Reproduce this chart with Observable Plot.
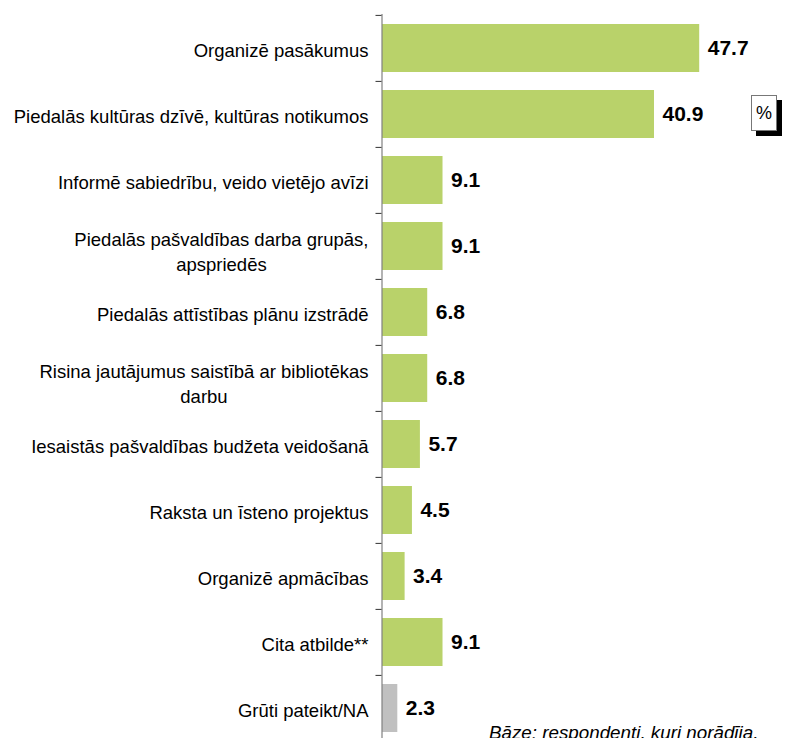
<!DOCTYPE html>
<html>
<head>
<meta charset="utf-8">
<script src="https://cdn.jsdelivr.net/npm/d3@7"></script>
<script src="https://cdn.jsdelivr.net/npm/@observablehq/plot@0.6"></script>
<style>
  html, body { margin: 0; padding: 0; background: #fff; }
  #chart { width: 788px; height: 738px; overflow: hidden; }
</style>
</head>
<body>
<div id="chart"></div>
<script>
const categories = [
  "Organizē pasākumus",
  "Piedalās kultūras dzīvē, kultūras notikumos",
  "Informē sabiedrību, veido vietējo avīzi",
  "Piedalās pašvaldības darba grupās,\napspriedēs",
  "Piedalās attīstības plānu izstrādē",
  "Risina jautājumus saistībā ar bibliotēkas\ndarbu",
  "Iesaistās pašvaldības budžeta veidošanā",
  "Raksta un īsteno projektus",
  "Organizē apmācības",
  "Cita atbilde**",
  "Grūti pateikt/NA"
];
const values = [47.7, 40.9, 9.1, 9.1, 6.8, 6.8, 5.7, 4.5, 3.4, 9.1, 2.3];
const kinds = ["answer","answer","answer","answer","answer","answer","answer","answer","answer","answer","na"];
const unitLabel = "%";
const footnote = "Bāze: respondenti, kuri norādīja,";

const data = categories.map((c, i) => ({label: c, value: values[i], kind: kinds[i]}));

const FONT = "'Liberation Sans', Arial, Helvetica, sans-serif";

const chart = Plot.plot({
  width: 788,
  height: 738,
  marginLeft: 382,
  marginRight: 7,
  marginTop: 14,
  marginBottom: -4,
  style: {fontFamily: FONT, fontSize: "18px", background: "#fff", color: "#000", overflow: "visible"},
  x: {domain: [0, 60], axis: null},
  y: {domain: categories, axis: null, padding: 0},
  color: {domain: ["answer", "na"], range: ["#b9d26a", "#c0c0c0"]},
  marks: [
    Plot.barX(data, {x: "value", y: "label", fill: "kind", insetTop: 9, insetBottom: 9}),
    Plot.ruleX([0], {stroke: "#808080", strokeWidth: 1.2, dx: -0.5}),
    Plot.ruleY(data, {y: "label", x1: () => -0.9, x2: () => 0, dy: -33.1, dx: -0.5, stroke: "#333", strokeWidth: 1}),
    Plot.text(data, {
      y: "label", text: "label", frameAnchor: "left", textAnchor: "end",
      dx: -14, lineHeight: 1.36, fontSize: 18.5, fill: "#000", ariaDescription: "cat-labels"
    }),
    Plot.text(data, {
      x: "value", y: "label", text: d => d.value.toFixed(1), textAnchor: "start",
      dx: 8, fontSize: 21, fontWeight: "bold", fill: "#000"
    })
  ]
});

document.getElementById("chart").appendChild(chart);

// center second line of wrapped labels under first line (Excel-style)
d3.select(chart).selectAll('g[aria-description="cat-labels"] text').each(function() {
  const spans = this.querySelectorAll("tspan");
  if (spans.length > 1) {
    const w0 = spans[0].getComputedTextLength();
    for (let k = 1; k < spans.length; k++) {
      spans[k].setAttribute("x", -w0 / 2);
      spans[k].setAttribute("text-anchor", "middle");
    }
    const tr = this.getAttribute("transform") || "";
    this.setAttribute("transform", tr + " translate(0,4)");
  }
});

const svg = d3.select(chart);
// % box with drop shadow
const box = svg.append("g");
box.append("rect").attr("x", 756).attr("y", 100).attr("width", 26).attr("height", 36).attr("fill", "#000");
box.append("rect").attr("x", 751.5).attr("y", 95.5).attr("width", 25).attr("height", 35)
  .attr("fill", "#fff").attr("stroke", "#777").attr("stroke-width", 1);
box.append("text").attr("x", 764).attr("y", 119).attr("text-anchor", "middle")
  .attr("font-family", FONT).attr("font-size", 18).attr("fill", "#000").text(unitLabel);

// footnote (cut by the bottom edge, as in the reference)
svg.append("text").attr("x", 489).attr("y", 739).attr("text-anchor", "start")
  .attr("font-family", FONT).attr("font-size", 18.8).attr("font-style", "italic")
  .attr("fill", "#000").text(footnote);
</script>
</body>
</html>
